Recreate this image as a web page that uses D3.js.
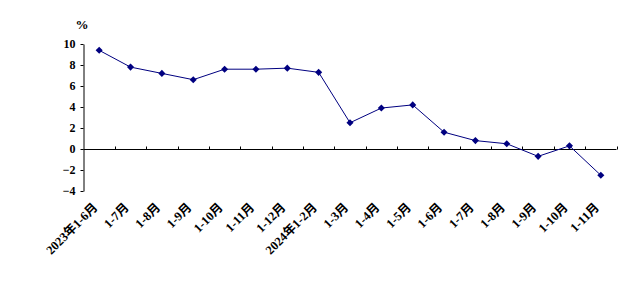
<!DOCTYPE html>
<html><head><meta charset="utf-8">
<script src="https://cdn.jsdelivr.net/npm/d3@7"></script>
<style>body{margin:0;background:#fff}svg{display:block}</style>
</head><body>
<script>
const categories = ["2023年1-6月","1-7月","1-8月","1-9月","1-10月","1-11月","1-12月","2024年1-2月","1-3月","1-4月","1-5月","1-6月","1-7月","1-8月","1-9月","1-10月","1-11月"];
const values = [9.4,7.8,7.2,6.6,7.6,7.6,7.7,7.3,2.5,3.9,4.2,1.6,0.8,0.5,-0.7,0.3,-2.5];
const yTicks = [-4,-2,0,2,4,6,8,10];
const unitLabel = "%";

const W = 633, H = 282;
const svg = d3.select("body").append("svg").attr("width", W).attr("height", H);
const idx = categories.map((c, i) => i);
const x = d3.scaleBand().domain(idx).range([83.5, 616.5]);
const cx = i => x(i) + x.bandwidth() / 2;
const y = d3.scaleLinear().domain([-4, 10]).range([191, 44]);
const font = "'Liberation Serif', 'Noto Sans CJK SC', serif";
const ink = "#000";
const lineColor = "#000080";

// Y axis
const ya = svg.append("g").attr("transform", "translate(83.5,0)")
  .call(d3.axisLeft(y).tickValues(yTicks).tickSize(3).tickSizeOuter(0)
    .tickFormat(d => d < 0 ? "\u2212" + Math.abs(d) : d));
ya.select(".domain").attr("stroke", ink);
ya.selectAll(".tick line").attr("stroke", ink);
ya.selectAll("text").attr("font-family", font).attr("font-weight", "bold")
  .attr("font-size", 12).attr("fill", ink).attr("x", -8);

// X axis at zero
const xa = svg.append("g").attr("transform", `translate(0,${Math.round(y(0)) + 0.5})`);
xa.append("line").attr("x1", x.range()[0]).attr("x2", x.range()[1]).attr("stroke", ink);
const bounds = idx.map(i => x(i) + x.bandwidth());
xa.selectAll("line.tk").data(bounds).join("line").attr("class", "tk")
  .attr("x1", d => Math.round(d) + 0.5).attr("x2", d => Math.round(d) + 0.5)
  .attr("y1", 0).attr("y2", -3).attr("stroke", ink);

// X labels
svg.append("g").selectAll("text").data(idx).join("text")
  .attr("transform", i => `translate(${cx(i) - 4},205) rotate(-45)`)
  .attr("text-anchor", "end").attr("dy", "0.35em")
  .attr("font-family", font).attr("font-weight", "bold").attr("font-size", 12.5)
  .attr("fill", ink).text(i => categories[i]);

// unit
svg.append("text").attr("x", 82).attr("y", 29).attr("text-anchor", "middle")
  .attr("font-family", font).attr("font-weight", "bold").attr("font-size", 13)
  .attr("fill", ink).text(unitLabel);

// line
const line = d3.line().x((d, i) => cx(i)).y(d => y(d));
svg.append("path").datum(values).attr("d", line).attr("fill", "none")
  .attr("stroke", lineColor).attr("stroke-width", 1);
svg.append("g").selectAll("rect").data(values).join("rect")
  .attr("x", -2.5).attr("y", -2.5).attr("width", 5).attr("height", 5)
  .attr("transform", (d, i) => `translate(${cx(i)},${y(d)}) rotate(45)`)
  .attr("fill", lineColor);
</script>
</body></html>
